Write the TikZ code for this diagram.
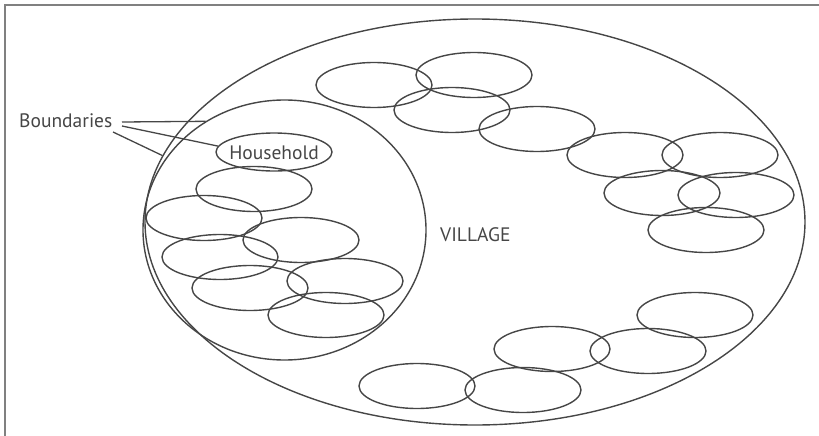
\documentclass[tikz,border=0pt]{standalone}
\usepackage{fontspec}
\setmainfont{PT Sans}
\usetikzlibrary{shapes.geometric}
\definecolor{ink}{HTML}{464646}
\begin{document}
\begin{tikzpicture}[x=1pt,y=-1pt,
  hh/.style={draw=ink,line width=1.4pt,ellipse,inner sep=0pt,minimum width=116pt,minimum height=45pt},
  bound/.style={draw=ink,line width=1.4pt,ellipse,inner sep=0pt},
  lbl/.style={text=ink,font=\fontsize{19.5}{22}\selectfont,inner sep=0pt},
  lead/.style={draw=ink,line width=1.3pt}]
\useasboundingbox (0,0) rectangle (819,436);
\draw[gray,line width=1.5pt] (5,436) -- (5,5) -- (819,5);
% boundaries
\node[bound,minimum width=660pt,minimum height=406pt] (village) at (475,222) {};
\node[bound,minimum width=283pt,minimum height=260pt] (inner) at (284.5,230) {};
\node[bound,minimum width=116pt,minimum height=38pt] (house) at (274,152) {};
\node[lbl] (housetext) at (274,153) {Household};
% left cluster
\node[hh] (a1) at (254,189) {};
\node[hh] (a2) at (204,218) {};
\node[hh] (a3) at (301,240) {};
\node[hh] (a4) at (220,257) {};
\node[hh] (a5) at (250,288) {};
\node[hh] (a6) at (345,281) {};
\node[hh] (a7) at (326,315) {};
% top chain
\node[hh] (b1) at (374,85) {};
\node[hh] (b2) at (474,75) {};
\node[hh] (b3) at (452,110) {};
\node[hh] (b4) at (537,129) {};
\node[hh] (b5) at (625,155) {};
\node[hh] (b6) at (720,155) {};
\node[hh] (b7) at (662,193) {};
\node[hh] (b8) at (736,195) {};
\node[hh] (b9) at (706,230) {};
% bottom chain
\node[hh] (c1) at (695,315) {};
\node[hh] (c2) at (648,351) {};
\node[hh] (c3) at (552,349) {};
\node[hh] (c4) at (523,390) {};
\node[hh] (c5) at (417,386) {};
% labels
\node[lbl,anchor=west] (vlab) at (440,235) {VILLAGE};
\node[lbl,anchor=west] (blab) at (19,121) {Boundaries};
\coordinate (s1) at (122,122);
\coordinate (s2) at (122,126);
\coordinate (s3) at (113,132);
\draw[lead] (s1) -- (inner.126);
\draw[lead] (s2) -- (house.174);
\draw[lead] (s3) -- (village.168.5);
\end{tikzpicture}
\end{document}
